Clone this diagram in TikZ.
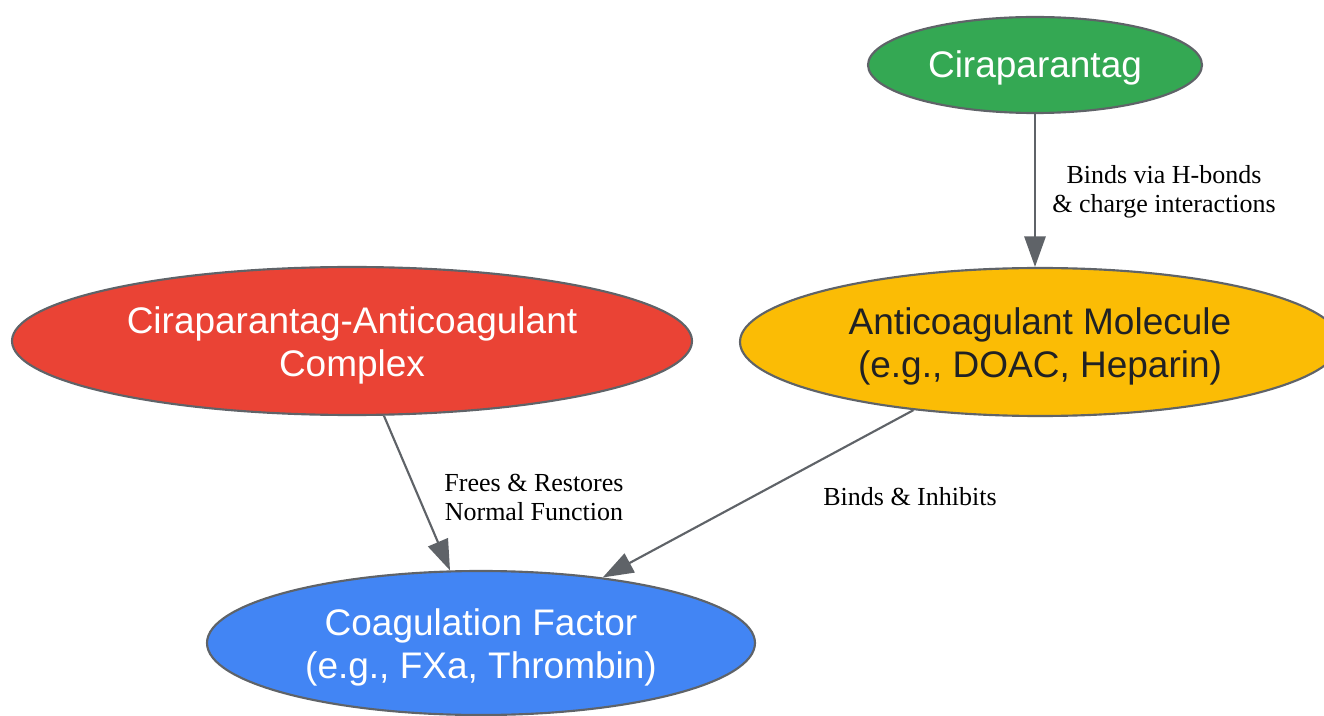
\documentclass[tikz,border=0pt]{standalone}
\usepackage{fontspec}
\setmainfont{Liberation Serif}
\newfontfamily\nodefont{Liberation Sans}
\usetikzlibrary{shapes.geometric,arrows.meta}
\definecolor{cgreen}{HTML}{34A853}
\definecolor{cyellow}{HTML}{FBBC05}
\definecolor{cred}{HTML}{EA4335}
\definecolor{cblue}{HTML}{4285F4}
\definecolor{cgray}{HTML}{5F6368}
\definecolor{cdark}{HTML}{202124}
\newcommand\mytopstrut[1]{\rule{0pt}{#1}}
\tikzset{
  blob/.style={ellipse, draw=cgray, line width=1.6pt, inner sep=0pt, align=center,
    font=\nodefont\fontsize{27.75}{32.25}\selectfont},
  link/.style={draw=cgray, line width=1.6pt, -{Triangle[length=23pt,width=16pt]}},
  lbl/.style={align=center, font=\fontsize{19.5}{21.75}\selectfont, text=black, inner sep=0pt}
}
\begin{document}
\begin{tikzpicture}[x=0.75pt,y=-0.75pt]
\useasboundingbox (0,0) rectangle (1324,716);
\node[blob, fill=cgreen, text=white, minimum width=250.5pt, minimum height=72pt] (cira) at (1035,65) {\mytopstrut{25pt}Ciraparantag};
\node[blob, fill=cyellow, text=cdark, minimum width=450pt, minimum height=111pt] (anti) at (1040,342) {\mytopstrut{27.5pt}Anticoagulant Molecule\\(e.g., DOAC, Heparin)};
\node[blob, fill=cred, text=white, minimum width=510pt, minimum height=111pt] (cplx) at (352,341) {\mytopstrut{27.5pt}Ciraparantag-Anticoagulant\\Complex};
\node[blob, fill=cblue, text=white, minimum width=411pt, minimum height=108pt] (coag) at (481,643) {\mytopstrut{27.5pt}Coagulation Factor\\(e.g., FXa, Thrombin)};
\draw[link] (cira) -- (cira |- anti.north);
\draw[link] (cplx) -- (coag);
\draw[link] (anti) -- (coag);
\node[lbl] (l1) at (1164,192) {Binds via H-bonds\\\& charge interactions};
\node[lbl] (l2) at (534,497) {Frees \& Restores\\Normal Function};
\node[lbl] (l3) at (910,497) {Binds \& Inhibits};
\end{tikzpicture}
\end{document}
